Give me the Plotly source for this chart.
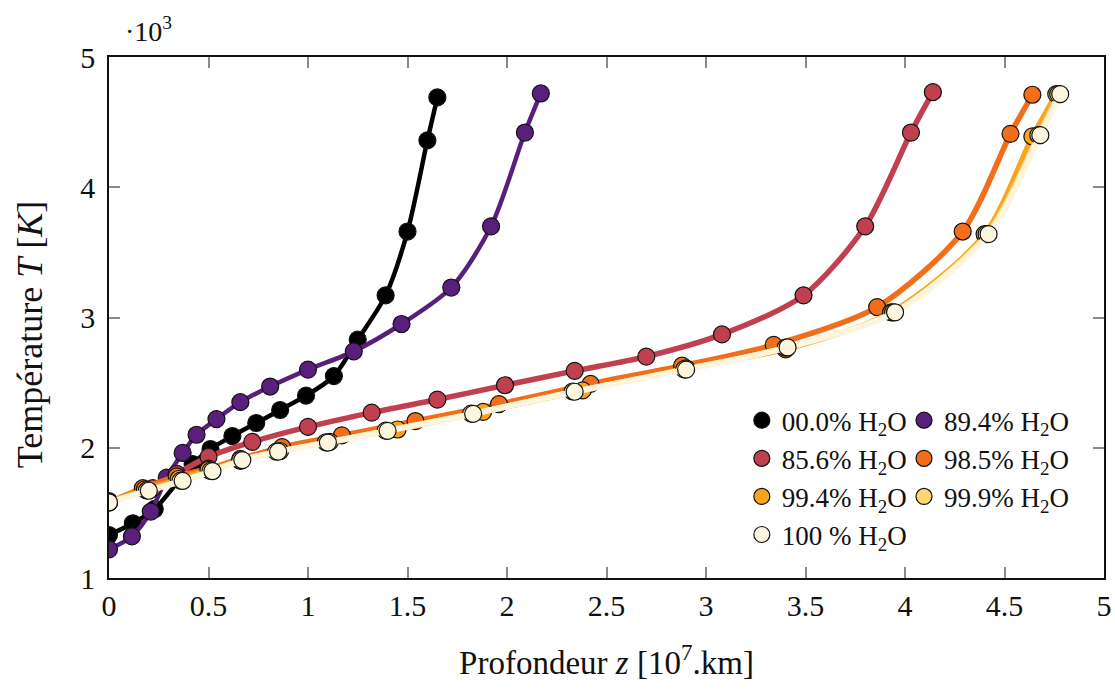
import plotly.graph_objects as go

# ---- data (x in 10^7 km, y in K) ----
names = ["00.0% H<sub>2</sub>O", "89.4% H<sub>2</sub>O", "85.6% H<sub>2</sub>O",
         "98.5% H<sub>2</sub>O", "99.4% H<sub>2</sub>O", "99.9% H<sub>2</sub>O",
         "100 % H<sub>2</sub>O"]
colors = ["#000000", "#5a1f7d", "#c1404f", "#f26e1a", "#fba31e", "#fdd66d", "#fdf6df"]

x_000 = [0, 0.12, 0.23, 0.42, 0.51, 0.62, 0.74, 0.86, 0.99, 1.13, 1.25, 1.39, 1.50, 1.60, 1.65]
y_000 = [1330, 1420, 1530, 1875, 1990, 2090, 2190, 2290, 2400, 2550, 2830, 3170, 3660, 4360, 4690]

x_894 = [0, 0.115, 0.21, 0.29, 0.37, 0.44, 0.54, 0.66, 0.81, 1.0, 1.23, 1.47, 1.72, 1.92, 2.09, 2.17]
y_894 = [1220, 1320, 1510, 1770, 1960, 2100, 2220, 2350, 2470, 2600, 2740, 2950, 3230, 3700, 4420, 4720]

x_856 = [0, 0.22, 0.34, 0.50, 0.72, 1.0, 1.32, 1.65, 1.99, 2.34, 2.70, 3.08, 3.49, 3.80, 4.03, 4.14]
y_856 = [1590, 1690, 1800, 1930, 2045, 2160, 2270, 2370, 2480, 2590, 2700, 2870, 3170, 3700, 4420, 4730]

x_985 = [0, 0.17, 0.34, 0.50, 0.66, 0.87, 1.17, 1.54, 1.96, 2.42, 2.88, 3.34, 3.86, 4.29, 4.53, 4.64]
y_985 = [1580, 1690, 1780, 1840, 1915, 2005, 2095, 2205, 2335, 2490, 2630, 2790, 3080, 3660, 4410, 4710]

x_994 = [0, 0.18, 0.35, 0.50, 0.66, 0.86, 1.11, 1.45, 1.88, 2.38, 2.90, 3.40, 3.93, 4.40, 4.64, 4.76]
y_994 = [1585, 1680, 1760, 1830, 1900, 1975, 2045, 2140, 2275, 2440, 2610, 2755, 3040, 3640, 4390, 4715]

x_999 = [0, 0.19, 0.36, 0.51, 0.66, 0.84, 1.09, 1.39, 1.82, 2.33, 2.89, 3.40, 3.94, 4.41, 4.67, 4.77]
y_999 = [1582, 1672, 1748, 1822, 1905, 1970, 2042, 2132, 2262, 2432, 2602, 2768, 3040, 3640, 4400, 4715]

x_100 = [0, 0.20, 0.37, 0.52, 0.67, 0.85, 1.10, 1.40, 1.83, 2.34, 2.90, 3.41, 3.95, 4.42, 4.68, 4.78]
y_100 = [1580, 1670, 1745, 1820, 1905, 1970, 2040, 2130, 2260, 2430, 2600, 2770, 3040, 3640, 4400, 4715]

xs = [x_000, x_894, x_856, x_985, x_994, x_999, x_100]
ys = [y_000, y_894, y_856, y_985, y_994, y_999, y_100]
legend_ids = ["legend", "legend2", "legend", "legend2", "legend", "legend2", "legend"]
line_widths = [4.5, 4.5, 5.5, 5.5, 5, 5, 6]

x_ticks = [0, 0.5, 1, 1.5, 2, 2.5, 3, 3.5, 4, 4.5, 5]
x_ticklabels = ["0", "0.5", "1", "1.5", "2", "2.5", "3", "3.5", "4", "4.5", "5"]
y_ticks = [1000, 2000, 3000, 4000, 5000]
y_ticklabels = ["1", "2", "3", "4", "5"]

FONT = "Liberation Serif"

fig = go.Figure()
for x, y, n, c, lg, lw in zip(xs, ys, names, colors, legend_ids, line_widths):
    fig.add_trace(go.Scatter(x=x, y=y, mode="lines",
                             line=dict(color=c, width=lw, shape="spline", smoothing=0.8),
                             showlegend=False, hoverinfo="skip"))
    fig.add_trace(go.Scatter(x=x, y=y, mode="markers", name=n, legend=lg,
                             marker=dict(color=c, size=17, line=dict(color="#111111", width=1.2))))

axis_common = dict(showline=True, linecolor="#111111", linewidth=1.6, mirror="ticks",
                   ticks="inside", ticklen=11, tickcolor="#8a8a8a", tickwidth=1.5,
                   showgrid=False, zeroline=False, automargin=False,
                   tickfont=dict(family=FONT, size=30, color="#111111"))

fig.update_layout(
    width=1115, height=689,
    margin=dict(l=109, r=11, t=57, b=111),
    paper_bgcolor="white", plot_bgcolor="white",
    font=dict(family=FONT, color="#111111"),
    xaxis=dict(range=[0, 5], tickvals=x_ticks, ticktext=x_ticklabels,
               title=dict(text="Profondeur <i>z</i> [10<sup>7</sup>.km]",
                          font=dict(family=FONT, size=33), standoff=30),
               **axis_common),
    yaxis=dict(range=[1000, 5000], tickvals=y_ticks, ticktext=y_ticklabels,
               ticklabelstandoff=6, **axis_common),
    legend=dict(x=0.636, y=0.349, xanchor="left", yanchor="top",
                bgcolor="rgba(0,0,0,0)", font=dict(family=FONT, size=27),
                itemwidth=30, tracegroupgap=0),
    legend2=dict(x=0.799, y=0.349, xanchor="left", yanchor="top",
                 bgcolor="rgba(0,0,0,0)", font=dict(family=FONT, size=27),
                 itemwidth=30, tracegroupgap=0),
    annotations=[
        dict(text="·10<sup>3</sup>", xref="paper", yref="paper",
             x=0.014, y=1.0, xanchor="left", yanchor="bottom", yshift=8,
             showarrow=False, font=dict(family=FONT, size=28)),
        dict(text="Température <i>T</i> [<i>K</i>]", xref="paper", yref="paper",
             x=-0.0794, y=0.468, xanchor="center", yanchor="middle", textangle=-90,
             showarrow=False, font=dict(family=FONT, size=36)),
    ],
)

fig.write_html("out.html", config={"displayModeBar": False},
               post_script="document.body.style.margin='0';document.body.style.overflow='hidden';")
